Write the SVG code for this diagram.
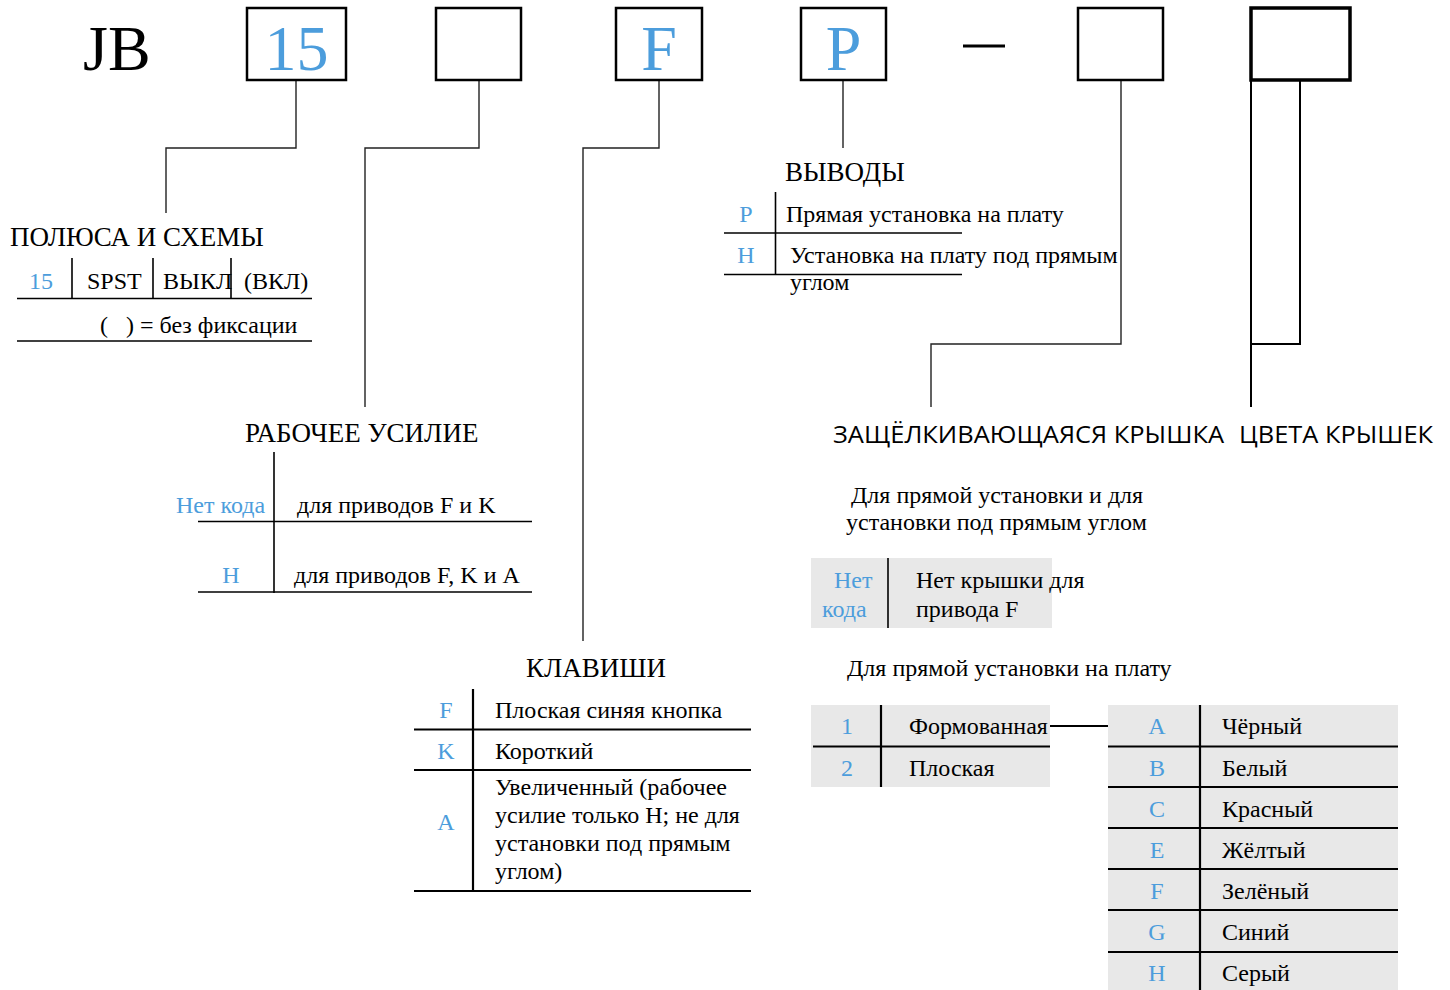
<svg xmlns="http://www.w3.org/2000/svg" width="1450" height="990" viewBox="0 0 1450 990">
<style>
.s{font-family:"Liberation Serif","Times New Roman",serif;fill:#000}
.b{fill:#4c9ddc}
.big{font-size:64px}
.h{font-size:27px}
.t{font-size:24px}
.m{text-anchor:middle}
.sans{font-family:"Open Sans","Noto Sans",sans-serif;font-size:24px;fill:#000}
.box{fill:#fff;stroke:#000;stroke-width:2.5}
.c{fill:none;stroke:#222;stroke-width:1.4}
.l{stroke:#000;stroke-width:1.6}
.lt{stroke:#000;stroke-width:2.2}
.g{fill:#e8e8e8}
</style>
<rect width="1450" height="990" fill="#fff"/>
<g id="connectors">
<polyline class="c" points="296,80 296,148 166,148 166,213"/>
<polyline class="c" points="479,80 479,148 365,148 365,407"/>
<polyline class="c" points="659,80 659,148 583,148 583,641"/>
<polyline class="c" points="843,80 843,148"/>
<polyline class="c" points="1121,80 1121,344 931,344 931,407"/>
<polyline fill="none" stroke="#000" stroke-width="2" points="1251,80 1251,407"/>
<polyline fill="none" stroke="#000" stroke-width="2" points="1300,80 1300,344 1251,344"/>
<line class="lt" x1="1050" y1="726" x2="1108" y2="726"/>
</g>
<g id="title">
<text class="s big" x="83" y="70">JB</text>
<line x1="963" y1="46" x2="1005" y2="46" stroke="#000" stroke-width="3"/>
</g>
<g id="box-15"><rect class="box" x="247" y="8" width="99" height="72"/><text class="s b big m" x="296.5" y="70">15</text></g>
<g id="box-2"><rect class="box" x="436" y="8" width="85" height="72"/></g>
<g id="box-F"><rect class="box" x="616" y="8" width="86" height="72"/><text class="s b big m" x="659" y="70">F</text></g>
<g id="box-P"><rect class="box" x="801" y="8" width="85" height="72"/><text class="s b big m" x="843.5" y="70">P</text></g>
<g id="box-5"><rect class="box" x="1078" y="8" width="85" height="72"/></g>
<g id="box-6"><rect fill="#fff" stroke="#000" stroke-width="3.5" x="1251" y="8" width="99" height="72"/></g>

<g id="poles">
<text class="s h" x="10" y="246">ПОЛЮСА И СХЕМЫ</text>
<line class="l" x1="72" y1="258" x2="72" y2="298"/>
<line class="l" x1="153" y1="258" x2="153" y2="298"/>
<line class="l" x1="231" y1="258" x2="231" y2="298"/>
<line class="l" x1="17" y1="298.5" x2="312" y2="298.5"/>
<text class="s t b m" x="41" y="289">15</text>
<text class="s t" x="87" y="289">SPST</text>
<text class="s t" x="163" y="289">ВЫКЛ</text>
<text class="s t" x="244" y="289">(ВКЛ)</text>
<text class="s t" x="100" y="333" xml:space="preserve">(   ) = без фиксации</text>
<line class="l" x1="17" y1="341" x2="312" y2="341"/>
</g>

<g id="force">
<text class="s h" x="245" y="442">РАБОЧЕЕ УСИЛИЕ</text>
<line class="l" x1="274" y1="452" x2="274" y2="593"/>
<line class="l" x1="198" y1="521.5" x2="532" y2="521.5"/>
<line class="l" x1="198" y1="592" x2="532" y2="592"/>
<text class="s t b" x="176" y="513">Нет кода</text>
<text class="s t" x="297" y="513">для приводов F и K</text>
<text class="s t b m" x="231" y="583">H</text>
<text class="s t" x="294" y="583">для приводов F, K и A</text>
</g>

<g id="leads">
<text class="s h" x="785" y="181">ВЫВОДЫ</text>
<line class="l" x1="775.5" y1="192" x2="775.5" y2="275"/>
<line class="l" x1="724" y1="233" x2="962" y2="233"/>
<line class="l" x1="724" y1="274.5" x2="962" y2="274.5"/>
<text class="s t b m" x="746" y="222">P</text>
<text class="s t" x="786" y="222">Прямая установка на плату</text>
<text class="s t b m" x="746" y="263">H</text>
<text class="s t" x="790" y="263">Установка на плату под прямым</text>
<text class="s t" x="790" y="290">углом</text>
</g>

<g id="keys">
<text class="s h" x="526" y="677">КЛАВИШИ</text>
<line class="lt" x1="473" y1="689" x2="473" y2="891"/>
<line class="lt" x1="414" y1="729.5" x2="751" y2="729.5"/>
<line class="lt" x1="414" y1="770" x2="751" y2="770"/>
<line class="lt" x1="414" y1="891" x2="751" y2="891"/>
<text class="s t b m" x="446" y="718">F</text>
<text class="s t" x="495" y="718">Плоская синяя кнопка</text>
<text class="s t b m" x="446" y="759">K</text>
<text class="s t" x="495" y="759">Короткий</text>
<text class="s t b m" x="446" y="830">A</text>
<text class="s t" x="495" y="795">Увеличенный (рабочее</text>
<text class="s t" x="495" y="823">усилие только H; не для</text>
<text class="s t" x="495" y="851">установки под прямым</text>
<text class="s t" x="495" y="879">углом)</text>
</g>

<g id="cap">
<text class="sans" x="833" y="443" textLength="391" lengthAdjust="spacingAndGlyphs">ЗАЩЁЛКИВАЮЩАЯСЯ КРЫШКА</text>
<text class="s t" x="851" y="503">Для прямой установки и для</text>
<text class="s t" x="846" y="530">установки под прямым углом</text>
<rect class="g" x="811" y="558" width="241" height="70"/>
<line class="l" x1="888" y1="558" x2="888" y2="628"/>
<text class="s t b" x="834" y="588">Нет</text>
<text class="s t b" x="822" y="617">кода</text>
<text class="s t" x="916" y="588">Нет крышки для</text>
<text class="s t" x="916" y="617">привода F</text>
<text class="s t" x="847" y="676">Для прямой установки на плату</text>
<rect class="g" x="811" y="705" width="239" height="82"/>
<line class="lt" x1="881" y1="705" x2="881" y2="787"/>
<line class="lt" x1="813" y1="746.5" x2="1050" y2="746.5"/>
<text class="s t b m" x="847" y="734">1</text>
<text class="s t" x="909" y="734">Формованная</text>
<text class="s t b m" x="847" y="776">2</text>
<text class="s t" x="909" y="776">Плоская</text>
</g>

<g id="colors">
<text class="sans" x="1239" y="443" textLength="194" lengthAdjust="spacingAndGlyphs">ЦВЕТА КРЫШЕК</text>
<rect class="g" x="1108" y="705" width="290" height="285"/>
<line class="lt" x1="1200" y1="705" x2="1200" y2="990"/>
<line class="lt" x1="1108" y1="746.5" x2="1398" y2="746.5"/>
<line class="lt" x1="1108" y1="787" x2="1398" y2="787"/>
<line class="lt" x1="1108" y1="828" x2="1398" y2="828"/>
<line class="lt" x1="1108" y1="869" x2="1398" y2="869"/>
<line class="lt" x1="1108" y1="910" x2="1398" y2="910"/>
<line class="lt" x1="1108" y1="952" x2="1398" y2="952"/>
<text class="s t b m" x="1157" y="734">A</text><text class="s t" x="1222" y="734">Чёрный</text>
<text class="s t b m" x="1157" y="776">B</text><text class="s t" x="1222" y="776">Белый</text>
<text class="s t b m" x="1157" y="817">C</text><text class="s t" x="1222" y="817">Красный</text>
<text class="s t b m" x="1157" y="858">E</text><text class="s t" x="1222" y="858">Жёлтый</text>
<text class="s t b m" x="1157" y="899">F</text><text class="s t" x="1222" y="899">Зелёный</text>
<text class="s t b m" x="1157" y="940">G</text><text class="s t" x="1222" y="940">Синий</text>
<text class="s t b m" x="1157" y="981">H</text><text class="s t" x="1222" y="981">Серый</text>
</g>
</svg>
